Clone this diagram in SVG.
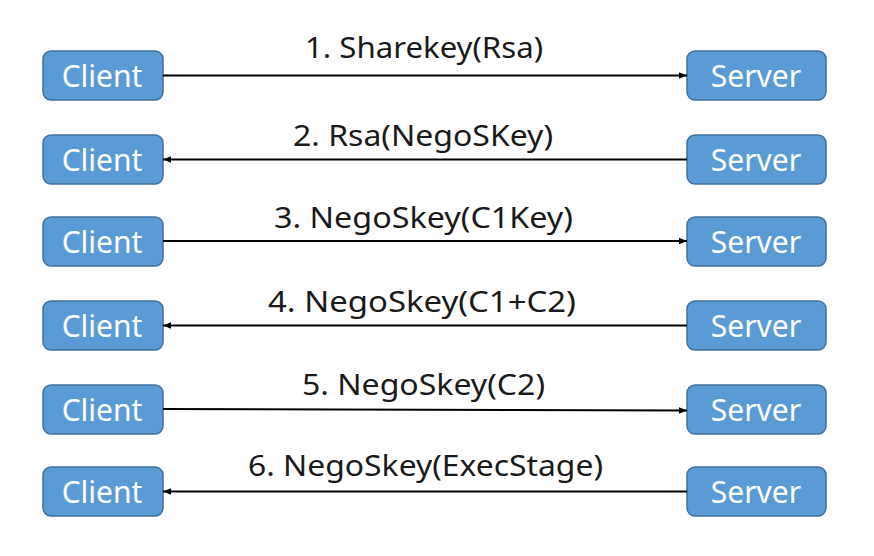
<svg xmlns="http://www.w3.org/2000/svg" width="874" height="556" viewBox="0 0 874 556">
<defs>
<marker id="ah" viewBox="0 0 10 10" refX="10" refY="5" markerWidth="8" markerHeight="8" markerUnits="userSpaceOnUse" orient="auto">
<path d="M0,1 L10,5 L0,9 z" fill="#000"/>
</marker>
<style>
.box{fill:#5B9BD5;stroke:#41719C;stroke-width:1.5}
.bt{font-family:"Noto Sans","Liberation Sans",sans-serif;font-size:30px;fill:#fff;text-anchor:middle}
.lbl{font-family:"Noto Sans","Liberation Sans",sans-serif;font-size:29px;fill:#1a1a1a;text-anchor:middle}
.ln{stroke:#000;stroke-width:2;fill:none;marker-end:url(#ah)}
</style>
</defs>
<rect width="874" height="556" fill="#fff"/>
<g id="client1"><rect class="box" x="43" y="51" width="120" height="49" rx="8"/><text class="bt" x="102" y="86.5">Client</text></g>
<g id="server1"><rect class="box" x="687" y="51" width="139" height="49" rx="8"/><text class="bt" x="756" y="86.5">Server</text></g>
<g id="client2"><rect class="box" x="43" y="135" width="120" height="49" rx="8"/><text class="bt" x="102" y="170.5">Client</text></g>
<g id="server2"><rect class="box" x="687" y="135" width="139" height="49" rx="8"/><text class="bt" x="756" y="170.5">Server</text></g>
<g id="client3"><rect class="box" x="43" y="217" width="120" height="49" rx="8"/><text class="bt" x="102" y="252.5">Client</text></g>
<g id="server3"><rect class="box" x="687" y="217" width="139" height="49" rx="8"/><text class="bt" x="756" y="252.5">Server</text></g>
<g id="client4"><rect class="box" x="43" y="301" width="120" height="49" rx="8"/><text class="bt" x="102" y="336.5">Client</text></g>
<g id="server4"><rect class="box" x="687" y="301" width="139" height="49" rx="8"/><text class="bt" x="756" y="336.5">Server</text></g>
<g id="client5"><rect class="box" x="43" y="385" width="120" height="49" rx="8"/><text class="bt" x="102" y="420.5">Client</text></g>
<g id="server5"><rect class="box" x="687" y="385" width="139" height="49" rx="8"/><text class="bt" x="756" y="420.5">Server</text></g>
<g id="client6"><rect class="box" x="43" y="467" width="120" height="49" rx="8"/><text class="bt" x="102" y="502.5">Client</text></g>
<g id="server6"><rect class="box" x="687" y="467" width="139" height="49" rx="8"/><text class="bt" x="756" y="502.5">Server</text></g>
<g id="connectors">
<line class="ln" x1="163" y1="75.5" x2="687" y2="75.5"/>
<line class="ln" x1="687" y1="159.5" x2="163" y2="159.5"/>
<line class="ln" x1="163" y1="241" x2="687" y2="241"/>
<line class="ln" x1="687" y1="325.5" x2="163" y2="325.5"/>
<line class="ln" x1="163" y1="409" x2="687" y2="410.5"/>
<line class="ln" x1="687" y1="491.5" x2="163" y2="491.5"/>
<text class="lbl" x="424" y="58" textLength="238" lengthAdjust="spacingAndGlyphs">1. Sharekey(Rsa)</text>
<text class="lbl" x="423" y="146" textLength="260" lengthAdjust="spacingAndGlyphs">2. Rsa(NegoSKey)</text>
<text class="lbl" x="423.5" y="228" textLength="299" lengthAdjust="spacingAndGlyphs">3. NegoSkey(C1Key)</text>
<text class="lbl" x="422" y="312" textLength="308" lengthAdjust="spacingAndGlyphs">4. NegoSkey(C1+C2)</text>
<text class="lbl" x="423.5" y="395" textLength="243" lengthAdjust="spacingAndGlyphs">5. NegoSkey(C2)</text>
<text class="lbl" x="425.5" y="476" textLength="355" lengthAdjust="spacingAndGlyphs">6. NegoSkey(ExecStage)</text>
</g>
</svg>
